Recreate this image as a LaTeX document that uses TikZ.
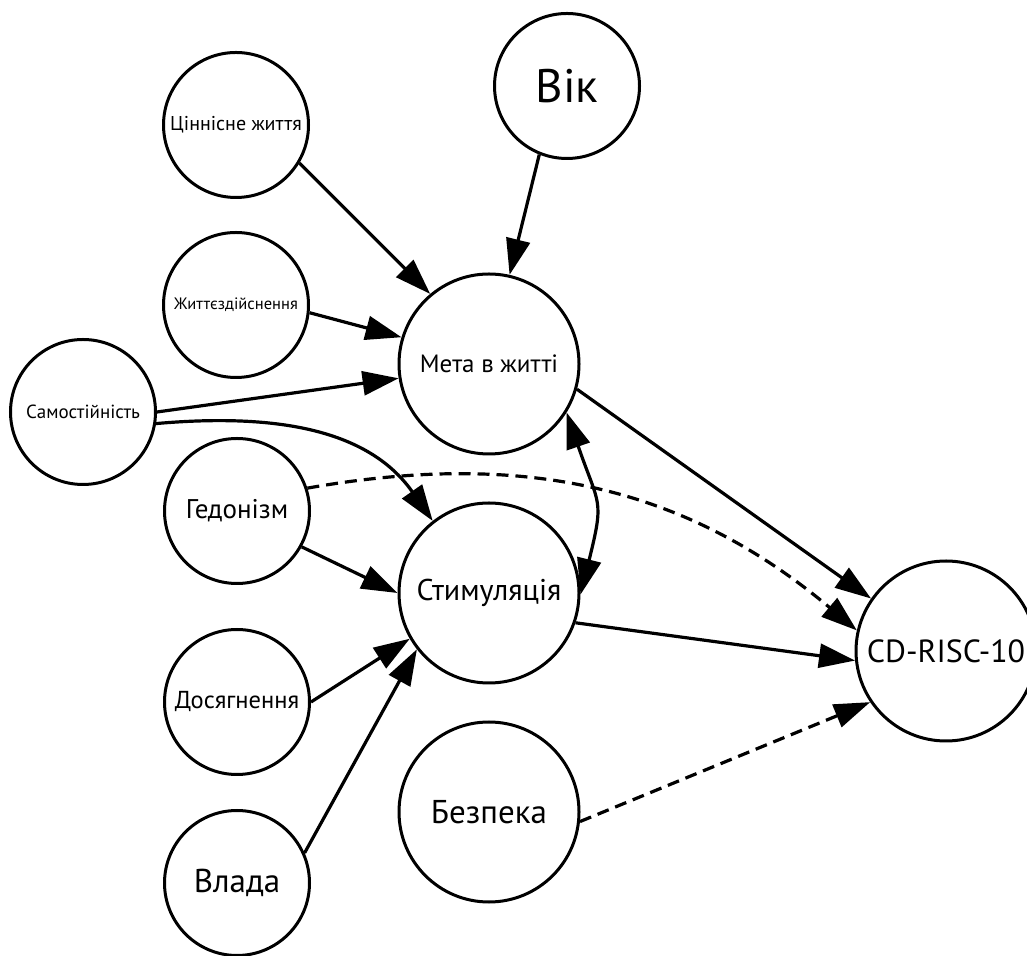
\documentclass[tikz,border=0pt]{standalone}
\usepackage{fontspec}
\setmainfont{PT Sans}
\usetikzlibrary{arrows.meta}
\tikzstyle{varnode}=[circle, draw, line width=3pt, inner sep=0pt, minimum size=145pt]
\tikzstyle{bignode}=[varnode, minimum size=180pt]
\newcommand{\varnode}{\node[varnode]}
\newcommand{\bignode}{\node[bignode]}
\newcommand{\fs}[1]{\fontsize{#1}{#1}\selectfont}

\begin{document}
\begin{tikzpicture}[x=1pt, y=1pt
    ,every edge/.style={draw, line width=3.2pt,
        -{Triangle[length=36pt,width=24pt]}}
    ,weak/.style={dash pattern=on 12pt off 7pt}
]
\useasboundingbox (0,0) rectangle (1027,955);
\varnode (vik) at (567,869) [font=\fs{47}] {Вік};
\varnode (cinn) at (236,830) [font=\fs{20}] {Ціннісне життя};
\varnode (zhyt) at (236,650) [font=\fs{16.5}] {Життєздійснення};
\varnode (samo) at (83,543) [font=\fs{19}] {Самостійність};
\varnode (hed) at (237,444) [font=\fs{27}] {Гедонізм};
\varnode (dos) at (237,253) [font=\fs{24.5}] {Досягнення};
\varnode (vlad) at (237,72) [font=\fs{33}] {Влада};
\bignode (meta) at (489,591) [font=\fs{25}] {Мета в житті};
\bignode (stym) at (489,362) [font=\fs{30}] {Стимуляція};
\bignode (bez) at (489,143) [font=\fs{33}] {Безпека};
\bignode (cd) at (946,304) [font=\fs{32}] {CD-RISC-10};
\path
(vik.248) edge (meta.77)
(cinn.-31) edge (meta.130)
(zhyt.-6) edge (meta.163)
(samo.0) edge (meta.189)
(samo.-9) edge[out=5, in=125] (stym.128)
(hed.-29) edge (stym.180)
(dos.0) edge (stym.210)
(vlad.24) edge (stym.218)
(meta.-32) edge[{Triangle[length=36pt,width=24pt]}-{Triangle[length=36pt,width=24pt]},
    out=-71, in=76, looseness=1.4] (stym.-1)
(meta.-16) edge (cd.145)
(stym.-19) edge (cd.186)
(hed.18) edge[weak, out=10, in=140] (cd.167)
(bez.-6) edge[weak] (cd.214)
;
\end{tikzpicture}
\end{document}
